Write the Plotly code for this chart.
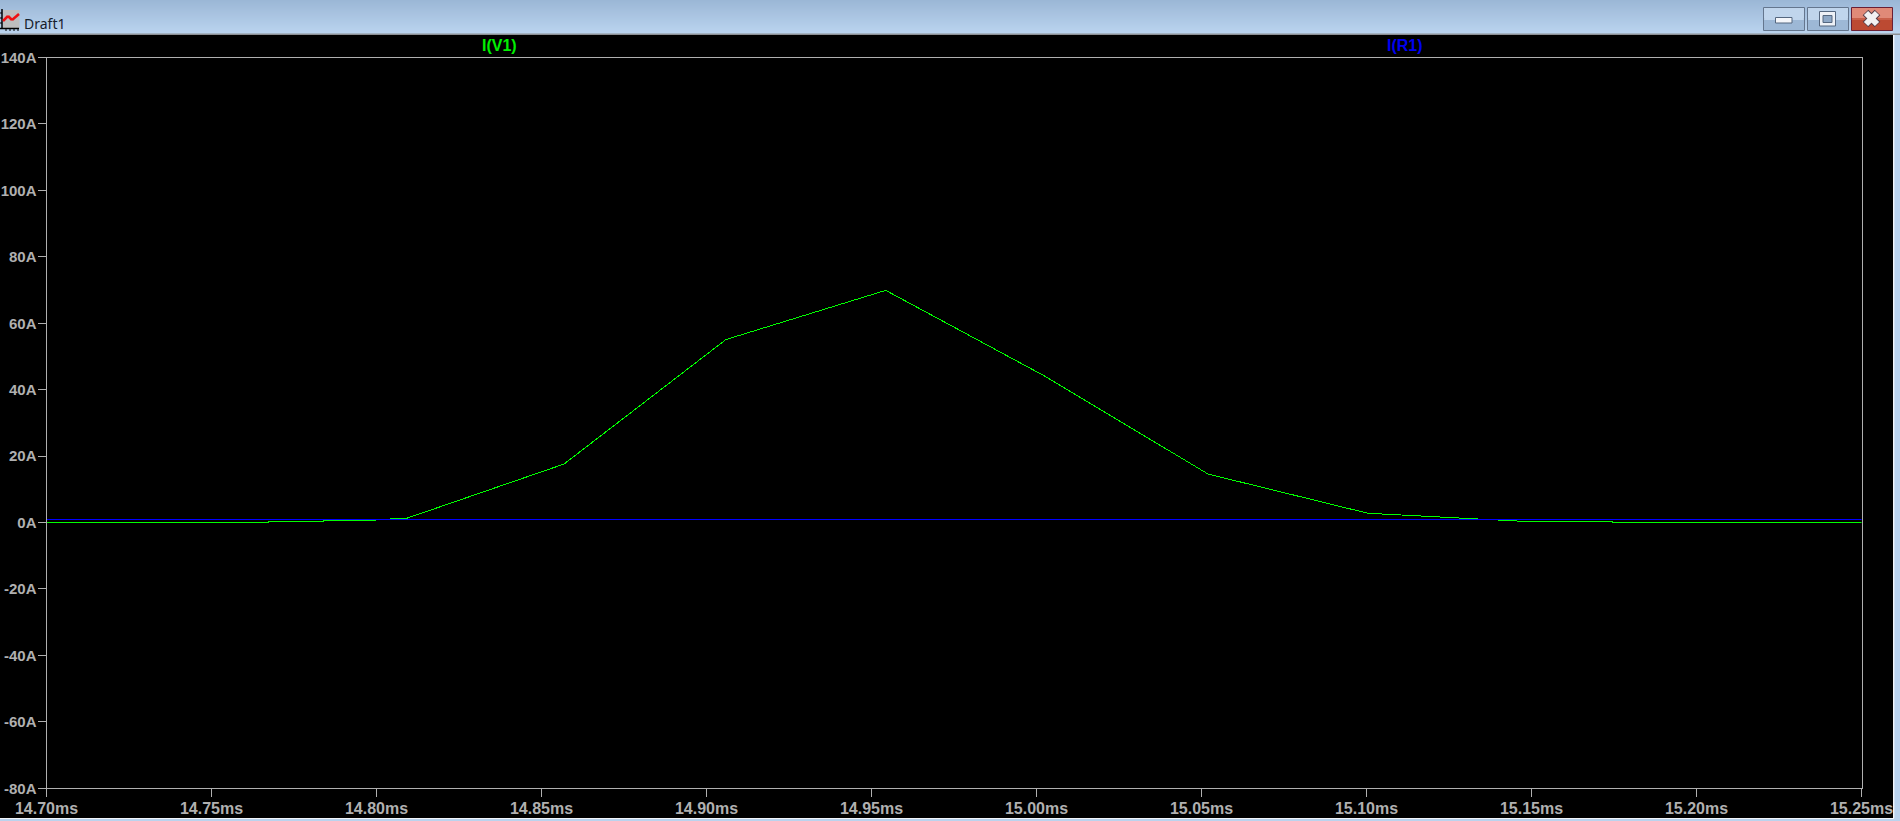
import plotly.graph_objects as go

# ---- data ----
v1_time_ms = [14.70, 14.7674, 14.7674, 14.7838, 14.7838, 14.7998, 14.7998, 14.8089, 14.8568, 14.9059, 14.9543,
              15.0023, 15.0520, 15.1004, 15.1468, 15.1468, 15.1744, 15.1744, 15.25]
v1_current_a = [0.1, 0.1, 0.4, 0.4, 0.7, 0.7, 0.95, 1.2, 17.6, 55.1, 69.9,
                44.2, 14.6, 2.8, 0.4, 0.4, 0.4, 0.1, 0.1]
r1_time_ms = [14.70, 15.25]
r1_current_a = [0.95, 0.95]
x_ticks = [14.70, 14.75, 14.80, 14.85, 14.90, 14.95, 15.00, 15.05, 15.10, 15.15, 15.20, 15.25]
x_labels = ["14.70ms", "14.75ms", "14.80ms", "14.85ms", "14.90ms", "14.95ms",
            "15.00ms", "15.05ms", "15.10ms", "15.15ms", "15.20ms", "15.25ms"]
y_ticks = [140, 120, 100, 80, 60, 40, 20, 0, -20, -40, -60, -80]
y_labels = ["140A", "120A", "100A", "80A", "60A", "40A", "20A", "0A",
            "-20A", "-40A", "-60A", "-80A"]

W, H = 1900, 821
GREY = "#B0B0B0"
FONT = "Liberation Sans"


def px(x):
    return x / W


def py(y):
    return 1 - y / H


def rect(x0, y0, x1, y1, fill, line=None, width=1, layer="below"):
    return dict(type="rect", xref="paper", yref="paper", layer=layer,
                x0=px(x0), x1=px(x1), y0=py(y0), y1=py(y1), fillcolor=fill,
                line=dict(color=line or fill, width=width if line else 0))


def seg(x0, y0, x1, y1, color, width=1):
    return dict(type="line", xref="paper", yref="paper", layer="above",
                x0=px(x0), x1=px(x1), y0=py(y0), y1=py(y1),
                line=dict(color=color, width=width))


def lerp(c0, c1, f):
    return "rgb(%d,%d,%d)" % tuple(round(a + (b - a) * f) for a, b in zip(c0, c1))


shapes = []
# window title bar (vertical gradient built from thin rows)
for row in range(34):
    shapes.append(rect(0, row, W, row + 1, lerp((155, 183, 214), (187, 212, 239), row / 33)))
shapes.append(rect(0, 33.6, W, 35, "#8C8F94"))
# window borders
shapes.append(rect(1893, 35, W, H, "#BAD3EE"))
shapes.append(rect(1893, 35, 1894.4, 818, "#F2F6FB"))
shapes.append(rect(0, 818, W, H, "#BAD3EE"))
shapes.append(rect(0, 818, 1894, 819, "#F2F6FB"))


def button(x0, x1, top, bottom, border):
    shapes.append(rect(x0, 7.5, x1, 19, top, border, 1, "above"))
    shapes.append(rect(x0, 19, x1, 30.5, bottom, border, 1, "above"))
    shapes.append(rect(x0 + 0.6, 18, x1 - 0.6, 20, top if top == "#C0D5EC" else "#C9604A", None, 0, "above"))


button(1763.5, 1804.5, "#C0D5EC", "#9DB8D6", "#64768E")
button(1807.5, 1848.5, "#C0D5EC", "#9DB8D6", "#64768E")
button(1851.5, 1892.5, "#E08A78", "#BC4A32", "#6B1F33")
shapes.append(rect(1775.5, 17.5, 1792, 23, "#F4F6FA", "#55677F", 1, "above"))
shapes.append(rect(1819.5, 11.5, 1835.5, 26, "#EEF1F6", "#55677F", 1, "above"))
shapes.append(rect(1823, 15.5, 1832, 22.5, "#8EA8C6", "#55677F", 1, "above"))
shapes.append(seg(1865.5, 12.5, 1877.5, 24.5, "#55404A", 8))
shapes.append(seg(1877.5, 12.5, 1865.5, 24.5, "#55404A", 8))
shapes.append(seg(1866, 13, 1877, 24, "#F2F2F2", 6))
shapes.append(seg(1877, 13, 1866, 24, "#F2F2F2", 6))
# window icon
shapes.append(rect(3, 10, 19.5, 29, "#BEBEBE", None, 0, "above"))
shapes.append(seg(2, 9, 2, 29, "#000000", 1.5))
shapes.append(seg(0, 28.5, 19, 28.5, "#000000", 1.5))
for tx in (6, 10, 14, 18):
    shapes.append(seg(tx, 28, tx, 31, "#000000", 1))
for ty in (13, 18, 23):
    shapes.append(seg(0, ty, 2, ty, "#000000", 1))
for a, b, c, d in ((3, 21, 8, 16), (8, 16, 12, 20), (12, 20, 19, 14)):
    shapes.append(seg(a, b, c, d, "#F01010", 2.5))

annotations = [
    dict(text="<b>I(V1)</b>", x=px(499), y=py(45.5), xref="paper", yref="paper", showarrow=False,
         font=dict(family=FONT, size=16, color="#00F000"), xanchor="center", yanchor="middle"),
    dict(text="<b>I(R1)</b>", x=px(1405), y=py(45.5), xref="paper", yref="paper", showarrow=False,
         font=dict(family=FONT, size=16, color="#0000F0"), xanchor="center", yanchor="middle"),
    dict(text="Draft1", x=px(21.5), y=py(23), xref="paper", yref="paper", showarrow=False,
         font=dict(family="Noto Sans", size=14, color="#16202C"), xanchor="left", yanchor="middle"),
]

fig = go.Figure()
fig.add_trace(go.Scatter(x=v1_time_ms, y=v1_current_a, mode="lines", name="I(V1)",
                         line=dict(color="#00FF00", width=1)))
fig.add_trace(go.Scatter(x=r1_time_ms, y=r1_current_a, mode="lines", name="I(R1)",
                         line=dict(color="#0000FF", width=1)))

fig.update_layout(
    width=W, height=H, margin=dict(l=0, r=0, t=0, b=0), autosize=False,
    paper_bgcolor="#000000", plot_bgcolor="#000000", showlegend=False,
    shapes=shapes, annotations=annotations,
    xaxis=dict(domain=[px(46.5), px(1861.5)], range=[14.70, 15.25], tickmode="array",
               tickvals=x_ticks, ticktext=x_labels, ticks="outside", ticklen=8, tickwidth=1,
               tickcolor=GREY, showgrid=False, zeroline=False, showline=True, mirror=True,
               linecolor=GREY, linewidth=1, tickfont=dict(family=FONT, size=16, color=GREY, weight=700),
               automargin=False, tickangle=0, ticklabelstandoff=-3),
    yaxis=dict(domain=[py(788.3), py(57.5)], range=[-80, 140], tickmode="array",
               tickvals=y_ticks, ticktext=y_labels, ticks="outside", ticklen=8, tickwidth=1,
               tickcolor=GREY, showgrid=False, zeroline=False, showline=True, mirror=True,
               linecolor=GREY, linewidth=1, tickfont=dict(family=FONT, size=15, color=GREY, weight=700),
               automargin=False, ticklabelstandoff=-2),
)

post = """
document.body.style.margin='0';
document.documentElement.style.overflow='hidden';
document.querySelectorAll('.scatterlayer .js-line').forEach(function(p){p.style.shapeRendering='crispEdges';});
"""
fig.write_html("out.html", config=dict(displayModeBar=False), post_script=post)
